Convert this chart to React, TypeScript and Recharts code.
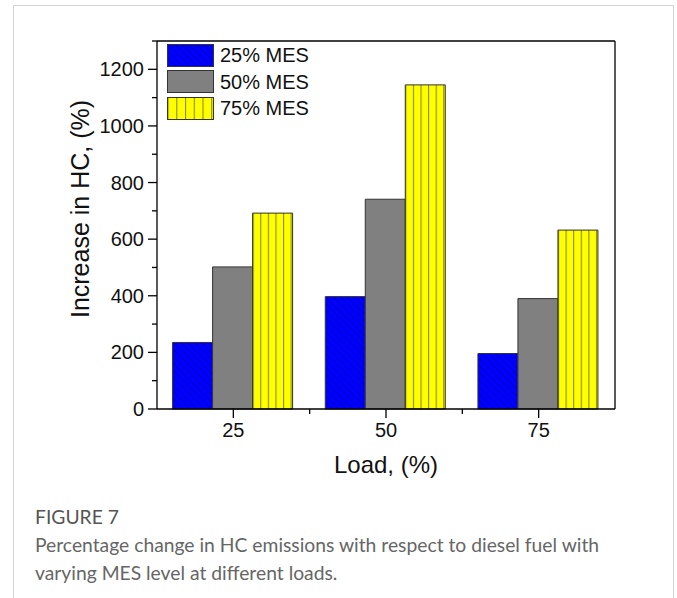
import { Bar, BarChart, ReferenceLine, XAxis, YAxis } from "recharts";

const loads = ["25", "50", "75"];
const mes25 = [235, 397, 196];
const mes50 = [502, 741, 390];
const mes75 = [692, 1145, 632];
const seriesNames = ["25% MES", "50% MES", "75% MES"];
const yTicks = [0, 100, 200, 300, 400, 500, 600, 700, 800, 900, 1000, 1100, 1200, 1300];

const data = loads.map((load, i) => ({
  load,
  mes25: mes25[i],
  mes50: mes50[i],
  mes75: mes75[i],
}));

const fills = ["url(#hatchBlue)", "#808080", "url(#stripeYellow)"];
const font = "'Liberation Sans', Arial, sans-serif";
const halfBand = (615 - 157) / 3 / 2;

const YTick = (props: any) => {
  const { x, y, payload } = props;
  const v = payload.value;
  const major = v % 200 === 0 && v <= 1200;
  return (
    <g>
      <line x1={x} x2={x - (major ? 9 : 5)} y1={y} y2={y} stroke="#000" strokeWidth={1.3} />
      {major && (
        <text x={x - 13} y={y} dy={7} textAnchor="end" fontSize={20} fontFamily={font} fill="#111">
          {v}
        </text>
      )}
    </g>
  );
};

const XTick = (props: any) => {
  const { x, y, payload, index } = props;
  return (
    <g>
      <line x1={x} x2={x} y1={y} y2={y + 9} stroke="#000" strokeWidth={1.3} />
      {index < 2 && (
        <line x1={x + halfBand} x2={x + halfBand} y1={y} y2={y + 5} stroke="#000" strokeWidth={1.3} />
      )}
      <text x={x} y={y + 28} textAnchor="middle" fontSize={20} fontFamily={font} fill="#111">
        {payload.value}
      </text>
    </g>
  );
};

const LegendBox = () => (
  <div style={{ fontFamily: font, fontSize: 20, color: "#111" }}>
    {seriesNames.map((name, i) => (
      <div key={name} style={{ display: "flex", alignItems: "center", height: 26.5 }}>
        <svg width={47} height={23} style={{ display: "block" }}>
          <rect x={0.5} y={0.5} width={46} height={22} fill={fills[i]} stroke="#333" />
        </svg>
        <span style={{ marginLeft: 6, lineHeight: "22px" }}>{name}</span>
      </div>
    ))}
  </div>
);

const App = () => {
  return (
    <div
      style={{
        position: "absolute",
        left: 0,
        top: 0,
        width: 677,
        height: 598,
        background: "#fff",
        overflow: "hidden",
      }}
    >
      <div
        style={{
          position: "absolute",
          left: 13,
          top: 5,
          width: 659,
          height: 700,
          border: "1px solid #d4d4d4",
        }}
      />
      <div style={{ position: "absolute", left: 0, top: 0 }}>
        <BarChart
          width={677}
          height={480}
          data={data}
          margin={{ top: 41, right: 61, left: 77, bottom: 11 }}
          barCategoryGap={15.6}
          barGap={0}
        >
          <defs>
            <pattern id="hatchBlue" width={5} height={5} patternUnits="userSpaceOnUse" patternTransform="rotate(-45)">
              <rect width={5} height={5} fill="#0000FF" />
              <line x1={0} y1={0} x2={0} y2={5} stroke="#0000A8" strokeWidth={1.2} />
            </pattern>
            <pattern id="stripeYellow" width={0.19} height={1} patternUnits="objectBoundingBox">
              <rect width={60} height={1000} fill="#FFFF00" />
              <line x1={0.5} y1={0} x2={0.5} y2={1000} stroke="#8a8a1a" strokeWidth={1.2} />
            </pattern>
          </defs>
          <XAxis
            dataKey="load"
            height={60}
            tickLine={false}
            tickSize={0}
            tickMargin={0}
            tick={XTick}
            axisLine={{ stroke: "#000", strokeWidth: 1.3 }}
            label={{ value: "Load, (%)", position: "insideBottom", offset: -4, fontSize: 24, fontFamily: font, fill: "#111" }}
          />
          <YAxis
            yAxisId="left"
            width={80}
            domain={[0, 1300]}
            ticks={yTicks}
            interval={0}
            tickLine={false}
            tickSize={0}
            tickMargin={0}
            tick={YTick}
            axisLine={{ stroke: "#000", strokeWidth: 1.3 }}
            label={{
              value: "Increase in HC, (%)",
              angle: -90,
              position: "center",
              dx: -37,
              dy: -16,
              fontSize: 25,
              fontFamily: font,
              fill: "#111",
            }}
          />
          <YAxis
            yAxisId="right"
            orientation="right"
            width={1}
            domain={[0, 1300]}
            tick={false}
            tickLine={false}
            axisLine={{ stroke: "#000", strokeWidth: 1.3 }}
          />
          <ReferenceLine yAxisId="left" y={1300} stroke="#000" strokeWidth={1.3} />
          <Bar yAxisId="left" dataKey="mes25" name={seriesNames[0]} fill={fills[0]} stroke="#333" strokeWidth={1} isAnimationActive={false} />
          <Bar yAxisId="left" dataKey="mes50" name={seriesNames[1]} fill={fills[1]} stroke="#333" strokeWidth={1} isAnimationActive={false} />
          <Bar yAxisId="left" dataKey="mes75" name={seriesNames[2]} fill={fills[2]} stroke="#333" strokeWidth={1} isAnimationActive={false} />
        </BarChart>
      </div>
      <div style={{ position: "absolute", left: 167, top: 42 }}>
        <LegendBox />
      </div>
      <div
        style={{
          position: "absolute",
          left: 35,
          top: 503,
          fontFamily: "Lato, 'Open Sans', sans-serif",
          fontSize: 19.3,
          lineHeight: "28px",
          color: "#666",
          whiteSpace: "nowrap",
        }}
      >
        <div style={{ color: "#555" }}>FIGURE 7</div>
        <div>Percentage change in HC emissions with respect to diesel fuel with</div>
        <div>varying MES level at different loads.</div>
      </div>
    </div>
  );
};

export default App;
